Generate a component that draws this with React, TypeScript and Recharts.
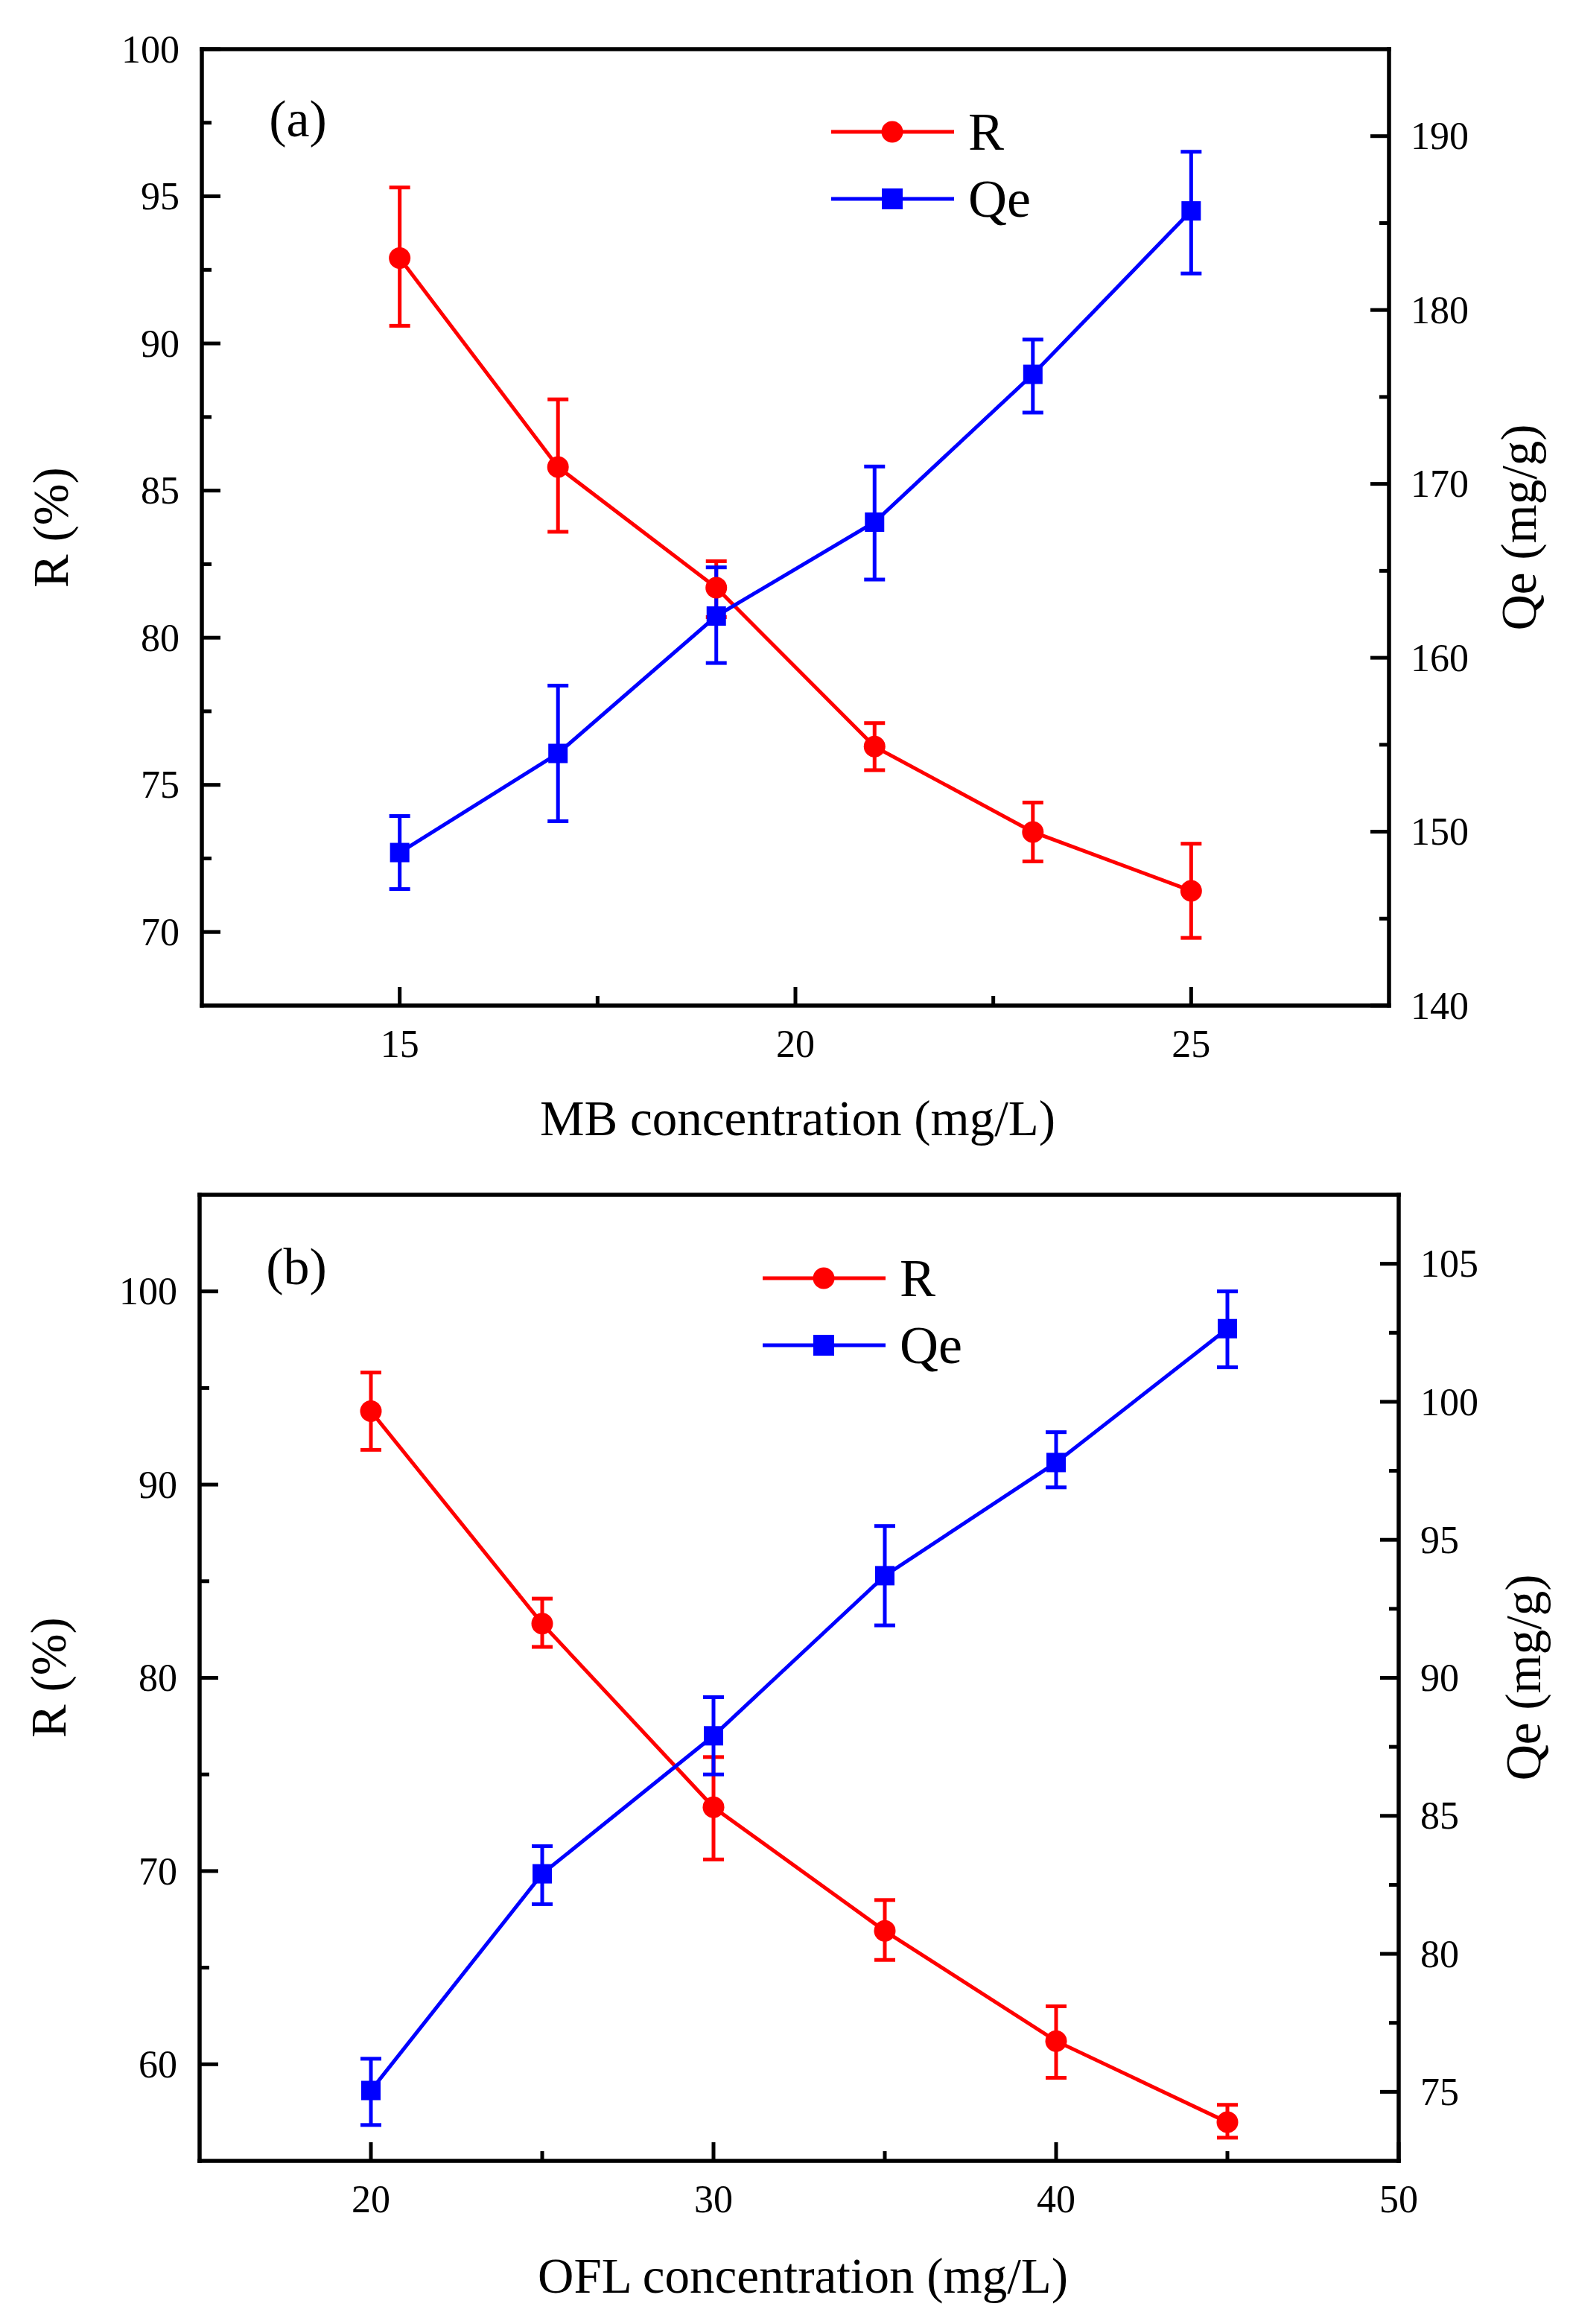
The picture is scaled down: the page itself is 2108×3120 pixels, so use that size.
import { LineChart, Line, XAxis, YAxis, ErrorBar, Legend } from 'recharts';

// (a) MB
const mbConc = [15, 17, 19, 21, 23, 25];
const mbR = [92.9, 85.8, 81.7, 76.3, 73.4, 71.4];
const mbRLow = [90.6, 83.6, 80.7, 75.5, 72.4, 69.8];
const mbRHigh = [95.3, 88.1, 82.6, 77.1, 74.4, 73.0];
const mbQe = [148.8, 154.5, 162.4, 167.8, 176.3, 185.7];
const mbQeLow = [146.7, 150.6, 159.7, 164.5, 174.1, 182.1];
const mbQeHigh = [150.9, 158.4, 165.2, 171.0, 178.3, 189.1];

// (b) OFL
const oflConc = [20, 25, 30, 35, 40, 45];
const oflR = [93.8, 82.8, 73.3, 66.9, 61.2, 57.0];
const oflRLow = [91.8, 81.6, 70.6, 65.4, 59.3, 56.2];
const oflRHigh = [95.8, 84.1, 75.9, 68.5, 63.0, 57.9];
const oflQe = [75.05, 82.9, 87.9, 93.7, 97.8, 102.65];
const oflQeLow = [73.8, 81.8, 86.5, 91.9, 96.9, 101.25];
const oflQeHigh = [76.2, 83.9, 89.3, 95.5, 98.9, 104.0];

// ticks
const mbXMajor = [15, 20, 25];
const mbXMinor = [17.5, 22.5];
const mbRMajor = [70, 75, 80, 85, 90, 95, 100];
const mbRMinor = [72.5, 77.5, 82.5, 87.5, 92.5, 97.5];
const mbQeMajor = [140, 150, 160, 170, 180, 190];
const mbQeMinor = [145, 155, 165, 175, 185];

const oflXMajor = [20, 30, 40, 50];
const oflXMinor = [25, 35, 45];
const oflRMajor = [60, 70, 80, 90, 100];
const oflRMinor = [65, 75, 85, 95];
const oflQeMajor = [75, 80, 85, 90, 95, 100, 105];
const oflQeMinor = [77.5, 82.5, 87.5, 92.5, 97.5, 102.5];

const legendOrder = ['R', 'Qe'];

const FONT = '"Liberation Serif", "Times New Roman", serif';
const RED = '#ff0000';
const BLUE = '#0000ff';
const SW = 5;

const buildRows = (
  xs: number[], r: number[], rLo: number[], rHi: number[],
  q: number[], qLo: number[], qHi: number[]
) =>
  xs.map((x, i) => ({
    x,
    r: r[i],
    rErr: [r[i] - rLo[i], rHi[i] - r[i]],
    qe: q[i],
    qeErr: [q[i] - qLo[i], qHi[i] - q[i]],
  }));

const makeTick = (side: 'left' | 'right' | 'bottom', majors: number[]) => (props: any) => {
  const { x, y, payload } = props;
  const v = payload.value;
  const major = majors.includes(v);
  const len = major ? 25 : 13;
  const common = { stroke: '#000', strokeWidth: 5 };
  const label = { fontFamily: FONT, fontSize: 52, fill: '#000' };
  if (side === 'left') {
    return (
      <g>
        <line x1={x} x2={x + len} y1={y} y2={y} {...common} />
        {major && (
          <text x={x - 30} y={y} dy="0.34em" textAnchor="end" {...label}>{v}</text>
        )}
      </g>
    );
  }
  if (side === 'right') {
    return (
      <g>
        <line x1={x} x2={x - len} y1={y} y2={y} {...common} />
        {major && (
          <text x={x + 29} y={y} dy="0.34em" textAnchor="start" {...label}>{v}</text>
        )}
      </g>
    );
  }
  return (
    <g>
      <line x1={x} x2={x} y1={y} y2={y - len} {...common} />
      {major && (
        <text x={x} y={y + 51} dy="0.34em" textAnchor="middle" {...label}>{v}</text>
      )}
    </g>
  );
};

const squareDot = (props: any) => (
  <rect
    key={`sq-${props.index}`}
    x={props.cx - 13}
    y={props.cy - 13}
    width={26}
    height={26}
    fill={BLUE}
  />
);

const legendContent = ({ payload }: any) => {
  const items = [...(payload || [])].sort(
    (a: any, b: any) => legendOrder.indexOf(a.value) - legendOrder.indexOf(b.value)
  );
  return (
    <div style={{ fontFamily: FONT, fontSize: 72, color: '#000' }}>
      {items.map((entry: any) => (
        <div key={entry.value} style={{ display: 'flex', alignItems: 'center', height: 90 }}>
          <svg width={165} height={90}>
            <line x1={0} x2={165} y1={45} y2={45} stroke={entry.color} strokeWidth={SW} />
            {entry.value === 'R' ? (
              <circle cx={82} cy={45} r={14.5} fill={entry.color} />
            ) : (
              <rect x={68} y={31} width={28} height={28} fill={entry.color} />
            )}
          </svg>
          <span style={{ marginLeft: 19, lineHeight: 1 }}>{entry.value}</span>
        </div>
      ))}
    </div>
  );
};

interface PanelProps {
  top: number;
  rows: any[];
  margin: { top: number; right: number; bottom: number; left: number };
  xDomain: [number, number];
  xMajor: number[];
  xMinor: number[];
  rDomain: [number, number];
  rMajor: number[];
  rMinor: number[];
  qDomain: [number, number];
  qMajor: number[];
  qMinor: number[];
  legendPos: { left: number; top: number };
}

function Panel(p: PanelProps) {
  const frame = { stroke: '#000', strokeWidth: 5.5, strokeLinecap: 'square' as const };
  const xTicks = [...p.xMajor, ...p.xMinor].sort((a, b) => a - b);
  // axes take 1px each; margins are the plot edges minus that
  const m = {
    top: p.margin.top - 1,
    bottom: p.margin.bottom - 1,
    left: p.margin.left - 1,
    right: p.margin.right - 1,
  };
  return (
    <div style={{ position: 'absolute', left: 0, top: p.top }}>
      <LineChart width={2108} height={1560} data={p.rows} margin={m}>
        <XAxis
          xAxisId="main"
          dataKey="x"
          type="number"
          domain={p.xDomain}
          allowDataOverflow
          ticks={xTicks}
          interval={0}
          height={1}
          tickSize={0}
          tickMargin={0}
          tickLine={false}
          axisLine={frame}
          tick={makeTick('bottom', p.xMajor)}
        />
        <XAxis
          xAxisId="top"
          orientation="top"
          type="number"
          domain={p.xDomain}
          allowDataOverflow
          ticks={xTicks}
          interval={0}
          height={1}
          tickSize={0}
          tick={false}
          tickLine={false}
          axisLine={frame}
        />
        <YAxis
          yAxisId="left"
          type="number"
          domain={p.rDomain}
          allowDataOverflow
          ticks={[...p.rMajor, ...p.rMinor].sort((a, b) => a - b)}
          interval={0}
          width={1}
          tickSize={0}
          tickMargin={0}
          tickLine={false}
          axisLine={frame}
          tick={makeTick('left', p.rMajor)}
        />
        <YAxis
          yAxisId="right"
          orientation="right"
          type="number"
          domain={p.qDomain}
          allowDataOverflow
          ticks={[...p.qMajor, ...p.qMinor].sort((a, b) => a - b)}
          interval={0}
          width={1}
          tickSize={0}
          tickMargin={0}
          tickLine={false}
          axisLine={frame}
          tick={makeTick('right', p.qMajor)}
        />
        <Legend
          layout="vertical"
          align="center"
          verticalAlign="middle"
          content={legendContent}
          wrapperStyle={{ position: 'absolute', left: p.legendPos.left, top: p.legendPos.top, width: 'auto', height: 'auto' }}
        />
        <Line
          xAxisId="main"
          yAxisId="left"
          dataKey="r"
          name="R"
          stroke={RED}
          strokeWidth={SW}
          dot={{ r: 14.5, fill: RED, stroke: RED, strokeWidth: 0 }}
          activeDot={false}
          isAnimationActive={false}
        >
          <ErrorBar dataKey="rErr" direction="y" width={14} stroke={RED} strokeWidth={SW} />
        </Line>
        <Line
          xAxisId="main"
          yAxisId="right"
          dataKey="qe"
          name="Qe"
          stroke={BLUE}
          strokeWidth={SW}
          dot={squareDot}
          activeDot={false}
          isAnimationActive={false}
        >
          <ErrorBar dataKey="qeErr" direction="y" width={14} stroke={BLUE} strokeWidth={SW} />
        </Line>
      </LineChart>
    </div>
  );
}

const textBase = {
  position: 'absolute' as const,
  fontFamily: FONT,
  color: '#000',
  lineHeight: 1,
  whiteSpace: 'nowrap' as const,
};

function Caption({ x, y, size, rotate, children }: any) {
  return (
    <div
      style={{
        ...textBase,
        left: x,
        top: y,
        fontSize: size,
        transform: `translate(-50%, -50%)${rotate ? ' rotate(-90deg)' : ''}`,
      }}
    >
      {children}
    </div>
  );
}

export default function App() {
  const rowsA = buildRows(mbConc, mbR, mbRLow, mbRHigh, mbQe, mbQeLow, mbQeHigh);
  const rowsB = buildRows(oflConc, oflR, oflRLow, oflRHigh, oflQe, oflQeLow, oflQeHigh);

  return (
    <div
      style={{
        position: 'absolute',
        left: 0,
        top: 0,
        width: 2108,
        height: 3120,
        background: '#fff',
        overflow: 'hidden',
      }}
    >
      <Panel
        top={0}
        rows={rowsA}
        margin={{ top: 66, right: 243, bottom: 210, left: 271 }}
        xDomain={[12.5, 27.5]}
        xMajor={mbXMajor}
        xMinor={mbXMinor}
        rDomain={[67.5, 100]}
        rMajor={mbRMajor}
        rMinor={mbRMinor}
        qDomain={[140, 195]}
        qMajor={mbQeMajor}
        qMinor={mbQeMinor}
        legendPos={{ left: 1116, top: 132 }}
      />
      <Panel
        top={1560}
        rows={rowsB}
        margin={{ top: 44, right: 230, bottom: 219, left: 268 }}
        xDomain={[15, 50]}
        xMajor={oflXMajor}
        xMinor={oflXMinor}
        rDomain={[55, 105]}
        rMajor={oflRMajor}
        rMinor={oflRMinor}
        qDomain={[72.5, 107.5]}
        qMajor={oflQeMajor}
        qMinor={oflQeMinor}
        legendPos={{ left: 1024, top: 111 }}
      />

      <Caption x={400} y={160} size={70}>(a)</Caption>
      <Caption x={1071} y={1501} size={67}>MB concentration (mg/L)</Caption>
      <Caption x={68} y={708} size={67} rotate>R (%)</Caption>
      <Caption x={2039} y={708} size={67} rotate>Qe (mg/g)</Caption>

      <Caption x={398} y={1701} size={70}>(b)</Caption>
      <Caption x={1078} y={3055} size={67}>OFL concentration (mg/L)</Caption>
      <Caption x={65} y={2252} size={67} rotate>R (%)</Caption>
      <Caption x={2045} y={2252} size={67} rotate>Qe (mg/g)</Caption>
    </div>
  );
}
